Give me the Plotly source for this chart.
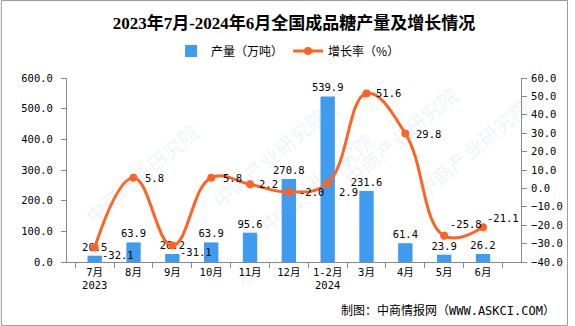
import plotly.graph_objects as go

# Monthly national refined sugar output (10k tonnes) and year-on-year growth (%)
months = ["7月", "8月", "9月", "10月", "11月", "12月", "1-2月", "3月", "4月", "5月", "6月"]
tick_labels = ["7月<br>2023", "8月", "9月", "10月", "11月", "12月", "1-2月<br>2024", "3月", "4月", "5月", "6月"]
output = [20.5, 63.9, 26.2, 63.9, 95.6, 270.8, 539.9, 231.6, 61.4, 23.9, 26.2]
growth = [-32.1, 5.8, -31.1, 5.8, 2.2, -2.0, 2.9, 51.6, 29.8, -25.8, -21.1]
# label offsets (px) of the growth-rate labels from their markers
growth_dx = [5, 9, 6, 10, 7, 8, 9, 7, 9, 4, 2]
growth_dy = [-8, 0, -6, 0, 0, 0, -9, 0, 0, 12, 9]

W, H = 575, 326
ML, MR, MT, MB = 67, 48, 78, 64
PW, PH = W - ML - MR, H - MT - MB

NUM_FONT = "DejaVu Sans Mono, Noto Sans CJK SC"
CJK_FONT = "Noto Sans CJK SC"
NUM_SIZE = 10.5
BAR_COLOR = "#3F9BEF"
LINE_COLOR = "#FF6321"

fig = go.Figure()

fig.add_trace(go.Bar(
    x=months, y=output, name="产量（万吨）",
    marker=dict(color=BAR_COLOR, line=dict(width=0)),
    width=0.37,
    text=[f"{v:.1f}" for v in output], textposition="outside",
    constraintext="none",
    textfont=dict(family=NUM_FONT, size=NUM_SIZE, color="#000"),
    cliponaxis=False,
))

fig.add_trace(go.Scatter(
    x=months, y=growth, name="增长率（%）", yaxis="y2",
    mode="lines+markers",
    line=dict(color=LINE_COLOR, width=3, shape="spline", smoothing=1.2),
    marker=dict(color=LINE_COLOR, size=8),
    cliponaxis=False,
))

for m, g, dx, dy in zip(months, growth, growth_dx, growth_dy):
    fig.add_annotation(
        x=m, y=g, xref="x", yref="y2", text=f"{g:.1f}", showarrow=False,
        xanchor="left", yanchor="middle", xshift=dx, yshift=dy,
        font=dict(family=NUM_FONT, size=NUM_SIZE, color="#000"),
    )

# light diagonal watermarks
for wx, wy in [(0.02, 0.80), (0.30, 0.25), (0.55, 0.75), (0.88, 1.0), (1.04, 0.30)]:
    fig.add_annotation(
        x=wx, y=wy, xref="paper", yref="paper", text="中商产业研究院",
        showarrow=False, textangle=-40,
        font=dict(family=CJK_FONT, size=20, color="rgba(130,180,225,0.16)"),
    )

# outer frame
fig.add_shape(
    type="rect", xref="paper", yref="paper",
    x0=-ML / PW + 0.001, x1=1 + MR / PW - 0.002,
    y0=-MB / PH + 0.003, y1=1 + MT / PH - 0.003,
    line=dict(color="#999", width=1), layer="below",
)

fig.add_annotation(
    x=1 + MR / PW - 0.025, y=-MB / PH + 0.03, xref="paper", yref="paper",
    xanchor="right", yanchor="bottom", showarrow=False,
    text="制图：中商情报网（WWW.ASKCI.COM）",
    font=dict(family=NUM_FONT, size=12, color="#000"),
)

fig.update_layout(
    width=W, height=H,
    margin=dict(l=ML, r=MR, t=MT, b=MB),
    paper_bgcolor="white", plot_bgcolor="white",
    title=dict(
        text="<b>2023年7月-2024年6月全国成品糖产量及增长情况</b>",
        x=0.5, xref="paper", xanchor="center", y=1 - 23 / H, yanchor="middle",
        font=dict(family="Liberation Serif, Noto Sans CJK SC", size=17, color="#000"),
    ),
    legend=dict(
        orientation="h", x=0.487, xanchor="center", y=1 + 27 / PH, yanchor="middle",
        font=dict(family=CJK_FONT, size=12, color="#000"),
    ),
    bargap=0.63,
    showlegend=True,
    xaxis=dict(
        type="category", tickvals=months, ticktext=tick_labels, tickangle=0,
        showline=True, linecolor="#888", ticks="outside", ticklen=5, tickcolor="#888",
        tickson="boundaries", showgrid=False,
        tickfont=dict(family=NUM_FONT, size=NUM_SIZE, color="#000"),
    ),
    yaxis=dict(
        range=[0, 600], dtick=100, tickformat=".1f",
        showline=True, linecolor="#888", ticks="outside", ticklen=5, tickcolor="#888",
        showgrid=False, zeroline=False, ticklabelstandoff=6,
        tickfont=dict(family=NUM_FONT, size=NUM_SIZE, color="#000"),
    ),
    yaxis2=dict(
        range=[-40, 60], dtick=10, tickformat=".1f", overlaying="y", side="right",
        showline=True, linecolor="#888", ticks="outside", ticklen=5, tickcolor="#888",
        showgrid=False, zeroline=False, ticklabelstandoff=2,
        tickfont=dict(family=NUM_FONT, size=NUM_SIZE, color="#000"),
    ),
)

fig.write_html("out.html")
